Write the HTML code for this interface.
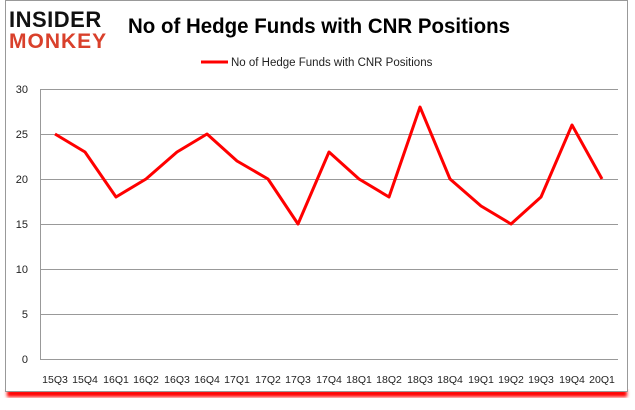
<!DOCTYPE html>
<html><head><meta charset="utf-8"><style>
html,body{margin:0;padding:0;background:#fff;}
body{width:635px;height:405px;position:relative;overflow:hidden;font-family:"Liberation Sans",sans-serif;}
</style></head><body>
<svg width="635" height="405" xmlns="http://www.w3.org/2000/svg" font-family="Liberation Sans, sans-serif">
<defs><filter id="b"><feGaussianBlur stdDeviation="1.5"/></filter></defs>
<rect x="7" y="390" width="620" height="7" fill="#f00" filter="url(#b)"/>
<rect x="5.5" y="0.5" width="622" height="391" fill="#fff" stroke="#999"/>
<text x="9" y="27" font-size="22" font-weight="bold" fill="#111" letter-spacing="0.5">INSIDER</text>
<text x="9" y="48" font-size="21" font-weight="bold" fill="#d9402b" letter-spacing="1">MONKEY</text>
<text x="128" y="33" font-size="21" font-weight="bold" fill="#000" textLength="382" lengthAdjust="spacingAndGlyphs">No of Hedge Funds with CNR Positions</text>
<line x1="201" y1="62" x2="228" y2="62" stroke="#f00" stroke-width="3"/>
<text x="231" y="66" font-size="11.5" fill="#222">No of Hedge Funds with CNR Positions</text>
<g stroke="#999" stroke-width="1">
<line x1="40" y1="89.5" x2="618" y2="89.5"/>
<line x1="40" y1="134.5" x2="618" y2="134.5"/>
<line x1="40" y1="179.5" x2="618" y2="179.5"/>
<line x1="40" y1="224.5" x2="618" y2="224.5"/>
<line x1="40" y1="269.5" x2="618" y2="269.5"/>
<line x1="40" y1="314.5" x2="618" y2="314.5"/>
<line x1="40" y1="359.5" x2="618" y2="359.5"/>
<line x1="40.5" y1="89" x2="40.5" y2="359"/>
</g>
<g font-size="11" fill="#222" text-anchor="end">
<text x="28" y="93">30</text><text x="28" y="138">25</text><text x="28" y="183">20</text>
<text x="28" y="228">15</text><text x="28" y="273">10</text><text x="28" y="318">5</text><text x="28" y="363">0</text>
</g>
<g font-size="10.5" fill="#222" text-anchor="middle">
<text x="55" y="383">15Q3</text><text x="85" y="383">15Q4</text><text x="116" y="383">16Q1</text><text x="146" y="383">16Q2</text><text x="177" y="383">16Q3</text><text x="207" y="383">16Q4</text><text x="237" y="383">17Q1</text><text x="268" y="383">17Q2</text><text x="298" y="383">17Q3</text><text x="329" y="383">17Q4</text><text x="359" y="383">18Q1</text><text x="389" y="383">18Q2</text><text x="420" y="383">18Q3</text><text x="450" y="383">18Q4</text><text x="481" y="383">19Q1</text><text x="511" y="383">19Q2</text><text x="541" y="383">19Q3</text><text x="572" y="383">19Q4</text><text x="602" y="383">20Q1</text>
</g>
<polyline fill="none" stroke="#f00" stroke-width="3" stroke-linejoin="round" points="55,134 85,152 116,197 146,179 177,152 207,134 237,161 268,179 298,224 329,152 359,179 389,197 420,107 450,179 481,206 511,224 541,197 572,125 602,179"/>
</svg>
</body></html>
